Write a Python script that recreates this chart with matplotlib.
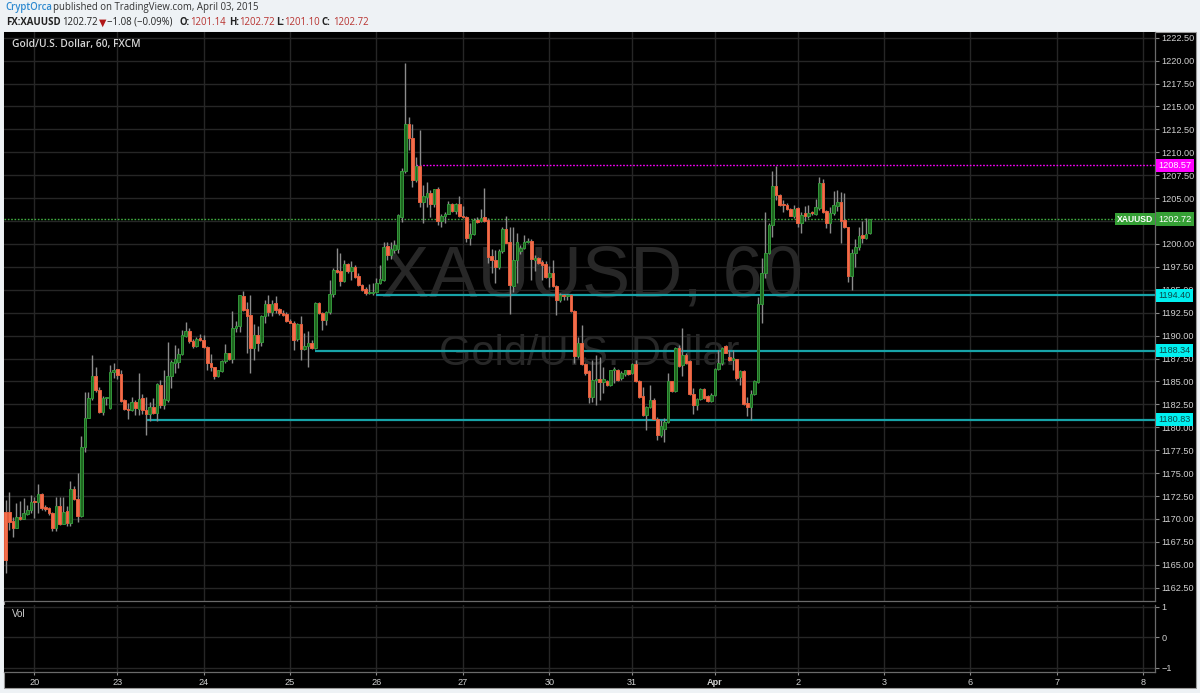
import matplotlib
matplotlib.use('Agg')
import matplotlib.pyplot as plt
from matplotlib.patches import Rectangle
from matplotlib.transforms import blended_transform_factory
import numpy as np

# ========== DANE (XAUUSD, świece 60 min) ==========

opens = [
    1170.8, 1170.8, 1169.8, 1169.05, 1170.2, 1170.0, 1170.5, 1171.0, 1171.9, 1171.8,
    1172.7, 1171.3, 1171.2, 1170.7, 1169.0, 1171.45, 1169.5, 1170.9, 1169.6, 1173.3,
    1172.2, 1170.35, 1177.8, 1181.05, 1183.2, 1185.6, 1184.1, 1181.7, 1183.2, 1182.1,
    1186.0, 1186.35, 1185.8, 1183.0, 1181.95, 1181.9, 1182.8, 1181.95, 1183.15, 1181.9,
    1181.5, 1182.25, 1181.6, 1184.65, 1182.4, 1183.0, 1185.6, 1187.0, 1187.15, 1188.0,
    1190.0, 1190.5, 1189.45, 1188.9, 1189.7, 1189.5, 1188.8, 1187.05, 1186.55, 1185.6,
    1186.1, 1187.2, 1188.1, 1187.4, 1190.8, 1191.0, 1194.35, 1192.9, 1192.2, 1188.6,
    1190.1, 1189.3, 1192.1, 1193.45, 1192.6, 1193.6, 1192.9, 1192.5, 1192.4, 1191.6,
    1191.4, 1189.6, 1191.3, 1188.55, 1188.9, 1189.2, 1188.6, 1193.6, 1192.5, 1191.7,
    1192.6, 1194.55, 1197.2, 1197.0, 1196.0, 1197.8, 1197.0, 1197.5, 1196.5, 1195.5,
    1195.05, 1194.6, 1194.6, 1194.8, 1195.7, 1196.1, 1199.8, 1198.8, 1199.35, 1199.4,
    1202.98, 1208.0, 1213.1, 1211.6, 1207.0, 1208.5, 1204.6, 1205.1, 1205.6, 1204.4,
    1205.96, 1202.5, 1203.1, 1203.3, 1204.4, 1203.6, 1204.36, 1203.05, 1202.9, 1200.6,
    1201.1, 1202.6, 1202.5, 1202.9, 1202.6, 1198.7, 1198.25, 1197.5, 1199.2, 1201.6,
    1200.2, 1195.4, 1198.3, 1199.2, 1199.6, 1200.2, 1200.35, 1198.3, 1198.5, 1198.05,
    1197.8, 1196.4, 1196.8, 1195.4, 1193.9, 1194.4, 1194.3, 1194.4, 1192.7, 1187.8,
    1189.2, 1186.9, 1186.1, 1183.3, 1185.2, 1185.25, 1184.9, 1185.0, 1184.6, 1186.2,
    1186.25, 1185.35, 1185.8, 1186.2, 1185.9, 1186.9, 1185.0, 1183.4, 1181.35, 1182.2,
    1183.0, 1180.9, 1179.2, 1179.8, 1180.6, 1185.0, 1184.0, 1188.7, 1186.8, 1187.9,
    1187.2, 1183.6, 1182.4, 1183.05, 1184.15, 1183.4, 1182.9, 1183.5, 1186.4, 1187.0,
    1188.9, 1187.7, 1187.3, 1187.4, 1185.45, 1186.1, 1182.6, 1182.25, 1183.6, 1184.9,
    1193.45, 1196.8, 1198.98, 1202.07, 1206.3, 1205.35, 1204.4, 1204.25, 1203.8, 1203.05,
    1203.9, 1202.3, 1203.35, 1203.05, 1203.42, 1203.3, 1203.9, 1206.7, 1203.6, 1202.3,
    1203.35, 1204.15, 1204.6, 1202.6, 1201.8, 1196.5, 1198.98, 1199.7, 1201.0, 1200.6,
    1201.14,
]
highs = [
    1172.1, 1172.9, 1170.2, 1171.7, 1172.0, 1172.25, 1171.5, 1172.6, 1172.4, 1173.8,
    1172.8, 1171.5, 1171.3, 1170.8, 1172.4, 1172.4, 1172.36, 1171.4, 1174.1, 1173.6,
    1175.05, 1179.1, 1183.9, 1183.9, 1187.9, 1186.6, 1184.4, 1183.45, 1183.35, 1186.8,
    1187.0, 1186.4, 1186.25, 1183.05, 1182.6, 1183.3, 1183.0, 1185.95, 1183.6, 1183.3,
    1182.8, 1183.2, 1184.8, 1185.2, 1186.2, 1189.3, 1187.3, 1188.97, 1188.6, 1190.6,
    1191.45, 1190.85, 1189.6, 1189.8, 1190.2, 1190.1, 1188.9, 1188.0, 1186.6, 1186.3,
    1187.3, 1189.1, 1188.15, 1192.7, 1191.6, 1194.4, 1194.9, 1193.7, 1194.4, 1191.3,
    1191.0, 1192.25, 1193.9, 1194.4, 1193.9, 1194.3, 1193.0, 1192.8, 1192.6, 1191.8,
    1191.6, 1191.35, 1192.1, 1190.3, 1190.55, 1189.5, 1193.7, 1193.7, 1192.6, 1192.7,
    1196.1, 1197.35, 1199.6, 1198.98, 1198.3, 1197.96, 1198.1, 1197.7, 1196.8, 1195.6,
    1195.3, 1195.6, 1195.7, 1196.25, 1197.7, 1200.25, 1200.25, 1200.25, 1200.4, 1203.3,
    1208.25, 1219.7, 1213.9, 1213.1, 1209.5, 1212.4, 1206.4, 1206.8, 1205.9, 1205.96,
    1206.25, 1203.3, 1203.5, 1204.7, 1204.5, 1204.5, 1205.2, 1204.1, 1203.05, 1202.3,
    1202.8, 1202.98, 1203.8, 1206.1, 1202.8, 1199.5, 1199.3, 1199.4, 1201.9, 1203.05,
    1201.9, 1201.9, 1201.2, 1199.9, 1201.0, 1200.6, 1200.5, 1198.8, 1198.6, 1198.25,
    1198.1, 1197.6, 1198.25, 1195.5, 1194.6, 1194.5, 1194.5, 1194.5, 1192.8, 1189.9,
    1191.2, 1187.0, 1186.25, 1187.35, 1187.9, 1187.7, 1186.6, 1185.2, 1186.3, 1186.6,
    1186.4, 1186.1, 1186.3, 1186.3, 1187.05, 1187.35, 1185.2, 1184.4, 1182.3, 1184.6,
    1183.2, 1181.1, 1180.8, 1181.0, 1185.9, 1185.1, 1188.8, 1189.0, 1190.8, 1188.1,
    1187.35, 1184.3, 1183.2, 1184.25, 1184.25, 1183.5, 1183.7, 1186.5, 1188.4, 1188.8,
    1189.0, 1188.4, 1188.4, 1187.5, 1186.25, 1186.25, 1183.35, 1184.05, 1185.2, 1194.25,
    1198.5, 1203.5, 1202.25, 1208.0, 1208.5, 1205.5, 1204.8, 1204.5, 1203.9, 1204.25,
    1204.0, 1203.5, 1204.1, 1204.25, 1203.6, 1204.9, 1207.3, 1207.05, 1203.7, 1204.0,
    1205.8, 1205.9, 1205.7, 1205.6, 1201.9, 1199.5, 1200.5, 1201.9, 1202.5, 1202.8,
    1202.72,
]
lows = [
    1164.1, 1168.8, 1168.0, 1169.0, 1169.9, 1170.0, 1170.4, 1170.6, 1170.07, 1170.6,
    1171.0, 1170.9, 1170.4, 1168.7, 1168.7, 1169.3, 1169.5, 1169.2, 1169.2, 1172.1,
    1169.7, 1170.25, 1177.3, 1181.0, 1183.0, 1183.9, 1181.6, 1181.3, 1182.4, 1182.0,
    1185.4, 1185.3, 1182.8, 1181.9, 1180.9, 1181.8, 1181.35, 1181.35, 1181.5, 1179.2,
    1180.7, 1181.5, 1180.7, 1182.1, 1182.0, 1182.8, 1184.25, 1185.9, 1186.5, 1187.9,
    1189.9, 1189.15, 1188.7, 1188.8, 1189.45, 1188.6, 1186.25, 1186.1, 1185.3, 1185.45,
    1186.0, 1187.05, 1187.3, 1187.0, 1190.4, 1190.4, 1192.7, 1188.1, 1185.9, 1187.3,
    1188.3, 1188.9, 1191.4, 1192.1, 1192.1, 1192.5, 1192.3, 1192.1, 1191.5, 1191.35,
    1188.4, 1189.45, 1187.35, 1188.4, 1186.55, 1188.5, 1188.5, 1192.4, 1190.6, 1191.2,
    1192.4, 1194.2, 1196.8, 1195.4, 1195.9, 1196.8, 1196.1, 1196.3, 1195.4, 1194.9,
    1194.4, 1194.5, 1194.4, 1194.7, 1195.6, 1196.0, 1198.25, 1198.4, 1198.98, 1198.98,
    1202.4, 1207.7, 1210.25, 1206.25, 1206.8, 1204.07, 1202.3, 1204.07, 1202.98, 1204.07,
    1202.1, 1201.9, 1202.25, 1203.3, 1203.5, 1203.3, 1202.98, 1202.8, 1200.25, 1199.9,
    1201.0, 1202.3, 1202.4, 1202.4, 1197.9, 1196.8, 1195.7, 1197.3, 1199.0, 1200.07,
    1192.4, 1194.8, 1195.7, 1198.9, 1199.5, 1200.07, 1196.1, 1197.0, 1197.8, 1196.1,
    1196.25, 1195.35, 1195.3, 1192.25, 1193.7, 1193.9, 1193.9, 1192.6, 1187.0, 1187.6,
    1186.8, 1185.7, 1182.6, 1182.8, 1182.4, 1183.0, 1183.7, 1184.5, 1184.5, 1184.8,
    1185.1, 1185.2, 1185.6, 1185.7, 1185.85, 1184.9, 1183.2, 1181.2, 1179.7, 1182.1,
    1180.8, 1178.6, 1178.9, 1178.4, 1180.5, 1183.9, 1183.9, 1186.6, 1185.6, 1186.9,
    1183.5, 1181.5, 1181.9, 1183.0, 1183.05, 1182.8, 1182.8, 1183.4, 1186.25, 1186.8,
    1188.1, 1187.2, 1186.25, 1185.2, 1184.6, 1182.4, 1181.2, 1180.8, 1183.5, 1184.8,
    1191.35, 1196.25, 1198.9, 1200.8, 1204.8, 1204.1, 1203.5, 1203.7, 1203.0, 1202.8,
    1201.8, 1201.2, 1202.5, 1202.8, 1203.2, 1203.15, 1203.7, 1203.4, 1201.7, 1201.2,
    1203.15, 1203.6, 1200.07, 1201.7, 1195.9, 1194.98, 1197.45, 1199.3, 1200.15, 1200.5,
    1201.10,
]
closes = [
    1165.5, 1169.7, 1169.05, 1170.2, 1170.0, 1170.6, 1170.98, 1171.9, 1171.8, 1172.7,
    1171.2, 1171.05, 1170.6, 1169.0, 1171.45, 1169.5, 1170.8, 1169.6, 1173.3, 1172.2,
    1170.35, 1177.8, 1181.05, 1183.2, 1185.6, 1184.1, 1181.7, 1183.2, 1183.3, 1186.0,
    1186.3, 1185.7, 1182.9, 1181.95, 1181.9, 1182.8, 1182.1, 1183.05, 1181.9, 1181.5,
    1182.25, 1181.6, 1184.7, 1182.4, 1183.05, 1185.6, 1187.15, 1187.5, 1188.0, 1190.1,
    1190.5, 1189.4, 1188.9, 1189.6, 1189.5, 1188.8, 1186.98, 1186.55, 1185.6, 1186.2,
    1187.2, 1188.1, 1187.4, 1190.8, 1191.1, 1194.4, 1192.8, 1192.1, 1188.6, 1190.1,
    1189.2, 1192.1, 1193.45, 1192.6, 1193.5, 1192.8, 1192.45, 1192.25, 1191.6, 1191.4,
    1189.5, 1191.3, 1188.55, 1188.9, 1189.2, 1188.6, 1193.6, 1192.5, 1191.7, 1192.6,
    1194.55, 1197.2, 1196.98, 1196.0, 1197.8, 1197.0, 1197.5, 1196.4, 1195.5, 1194.98,
    1194.6, 1194.8, 1194.8, 1195.7, 1196.2, 1199.7, 1198.8, 1199.4, 1199.9, 1203.16,
    1208.0, 1213.1, 1211.6, 1207.0, 1208.5, 1204.6, 1205.2, 1205.6, 1204.4, 1205.96,
    1202.5, 1203.1, 1203.3, 1204.4, 1203.6, 1204.36, 1203.05, 1202.9, 1200.6, 1201.1,
    1202.6, 1202.4, 1202.8, 1202.5, 1198.6, 1198.25, 1197.5, 1199.2, 1201.6, 1200.1,
    1195.5, 1198.3, 1200.25, 1199.6, 1200.25, 1200.35, 1198.4, 1198.5, 1197.9, 1197.7,
    1196.4, 1196.8, 1195.4, 1193.9, 1194.4, 1194.3, 1194.4, 1192.7, 1187.8, 1189.2,
    1186.9, 1185.9, 1183.3, 1185.2, 1185.25, 1184.9, 1185.25, 1184.6, 1186.25, 1186.4,
    1185.2, 1185.9, 1186.2, 1185.8, 1186.9, 1185.0, 1183.35, 1181.35, 1182.2, 1183.0,
    1180.9, 1179.2, 1180.15, 1180.6, 1185.0, 1184.0, 1188.7, 1186.7, 1187.9, 1187.0,
    1183.6, 1182.4, 1183.05, 1184.15, 1183.2, 1182.9, 1183.5, 1186.4, 1187.0, 1188.6,
    1188.15, 1187.3, 1187.6, 1185.35, 1186.1, 1182.55, 1182.25, 1183.6, 1185.05, 1193.5,
    1196.8, 1198.98, 1202.07, 1206.3, 1205.35, 1204.25, 1204.25, 1203.8, 1203.05, 1203.8,
    1202.3, 1203.2, 1203.0, 1203.35, 1203.35, 1204.0, 1206.7, 1203.5, 1202.3, 1203.4,
    1204.25, 1204.6, 1202.5, 1201.8, 1196.5, 1198.98, 1199.7, 1200.9, 1200.7, 1201.1,
    1202.72,
]

# etykiety dni i numer świecy, od której zaczyna się dzień
day_labels = ['20', '23', '24', '25', '26', '27', '30', '31', 'Apr', '2', '3', '6', '7', '8']
day_start_bar = [8, 31, 55, 79, 103, 127, 151, 174, 197, 220, 244, 268, 292, 316]

# poziomy wsparcia / oporu (cena, świeca początkowa)
support_levels = [1194.40, 1188.34, 1180.83]
support_start_bar = [103, 86, 39]
resistance_level = 1208.57
resistance_start_bar = 114
last_price = 1202.72

price_ticks = np.arange(1162.5, 1222.51, 2.5)

# ========== KOLORY ==========
BG = '#000000'
GRID = '#262626'
TXT = '#d0d0d0'
UP_FACE = '#1f661f'
UP_EDGE = '#33963a'
DOWN_FACE = '#f26d4b'
DOWN_EDGE = '#e45f3e'
WICK = '#8c8c8c'
CYAN_LINE = '#17a3a8'

W, H = 1200, 693


def fx(px):
    return px / W


def fy(py):
    return 1 - py / H


fig = plt.figure(figsize=(12, 6.93), dpi=100, facecolor='#eef2f5')

# czarny panel wykresu (pod osiami)
fig.patches.append(Rectangle((fx(4), fy(688)), fx(1192), (688 - 32) / H,
                             transform=fig.transFigure, facecolor=BG,
                             edgecolor='#9a9a9a', linewidth=0.8, zorder=-10))

ax = fig.add_axes([fx(4), fy(601), fx(1151), (601 - 32) / H])
axv = fig.add_axes([fx(4), fy(672), fx(1151), (672 - 605) / H], sharex=ax)

for a in (ax, axv):
    a.set_facecolor(BG)
    for s in a.spines.values():
        s.set_color('#6a6a6a')
        s.set_linewidth(0.9)
    a.spines['left'].set_visible(False)
    a.spines['top'].set_visible(False)

n = len(opens)
idx = np.arange(n)
o = np.array(opens)
c = np.array(closes)
hi = np.array(highs)
lo = np.array(lows)
up = c >= o

# knoty
ax.vlines(idx, lo, hi, color=WICK, linewidth=1.0, zorder=3)

# korpusy
body_low = np.minimum(o, c)
body_h = np.maximum(np.abs(c - o), 0.12)
ax.bar(idx[up], body_h[up], bottom=body_low[up], width=0.68,
       color=UP_FACE, edgecolor=UP_EDGE, linewidth=0.7, zorder=4)
ax.bar(idx[~up], body_h[~up], bottom=body_low[~up], width=0.68,
       color=DOWN_FACE, edgecolor=DOWN_EDGE, linewidth=0.7, zorder=4)

ax.set_xlim(-0.47, 319.25)
ax.set_ylim(1161.05, 1223.12)

# znak wodny
ax.text(163.0, 1196.3, 'XAUUSD, 60', fontsize=52, color='#272727',
        family='Liberation Sans', ha='center', va='center', zorder=1)
ax.text(162.0, 1188.0, 'Gold/U.S. Dollar', fontsize=30, color='#272727',
        family='Liberation Sans', ha='center', va='center', zorder=1)

# linie poziomów
ax.axhline(last_price, color='#40b040', linewidth=1.0, linestyle=(0, (1.2, 1.2)), zorder=2)
ax.hlines(resistance_level, resistance_start_bar, 319.25, color='#ff00ff',
          linewidth=1.0, linestyle=(0, (1.2, 1.2)), zorder=2)
for lvl, start in zip(support_levels, support_start_bar):
    ax.hlines(lvl, start, 319.25, color=CYAN_LINE, linewidth=1.6, zorder=2)

# siatka
ax.set_yticks(price_ticks)
ax.yaxis.tick_right()
ax.yaxis.set_major_formatter(plt.FuncFormatter(lambda v, p: f'{v:.2f}'))
ax.tick_params(axis='y', colors='#8a8a8a', labelcolor=TXT, labelsize=6.6,
               length=3, width=0.8, pad=1.5)
for lbl in ax.get_yticklabels():
    lbl.set_family('Liberation Sans')
ax.set_xticks(day_start_bar)
ax.tick_params(axis='x', bottom=False, labelbottom=False)
ax.grid(True, color=GRID, linewidth=1.0, zorder=0)
ax.set_axisbelow(True)

# etykiety cen po prawej
tr = blended_transform_factory(ax.transAxes, ax.transData)
label_kw = dict(transform=tr, ha='left', va='center', fontsize=6.6,
                family='Liberation Sans', clip_on=False, zorder=10)
ax.text(1.003, resistance_level, f'{resistance_level:.2f}', color='white',
        bbox=dict(boxstyle='square,pad=0.22', fc='#ff00ff', ec='none'), **label_kw)
ax.text(1.003, last_price, f'{last_price:.2f}', color='white',
        bbox=dict(boxstyle='square,pad=0.22', fc='#35a035', ec='none'), **label_kw)
ax.text(0.998, last_price, 'XAUUSD', color='white', transform=tr, ha='right',
        va='center', fontsize=6.2, family='Liberation Sans', fontweight='bold',
        zorder=10, bbox=dict(boxstyle='square,pad=0.22', fc='#35a035', ec='none'))
for lvl in support_levels:
    ax.text(1.003, lvl, f'{lvl:.2f}', color='#0a4a4a',
            bbox=dict(boxstyle='square,pad=0.22', fc='#00f0f0', ec='none'), **label_kw)

# panel wolumenu
axv.set_ylim(-1.14, 1.05)
axv.set_yticks([-1, 0, 1])
axv.yaxis.tick_right()
axv.tick_params(axis='y', colors='#8a8a8a', labelcolor=TXT, labelsize=6.6,
                length=3, width=0.8, pad=1.5)
axv.set_xticks(day_start_bar)
axv.set_xticklabels(day_labels)
axv.tick_params(axis='x', colors='#8a8a8a', labelcolor=TXT, labelsize=6.6,
                length=2, width=0.8, pad=2)
for lbl in axv.get_xticklabels() + axv.get_yticklabels():
    lbl.set_family('Liberation Sans')
axv.get_xticklabels()[day_labels.index('Apr')].set_fontweight('bold')
axv.grid(True, color=GRID, linewidth=1.0, zorder=0)
axv.set_axisbelow(True)
axv.text(0.007, 0.86, 'Vol', transform=axv.transAxes, color=TXT, fontsize=7,
         family='Liberation Sans', va='center')

# tytuł w wykresie
fig.text(fx(12), fy(45), 'Gold/U.S. Dollar, 60, FXCM', color='#d6d6d6', fontsize=7.4,
         family='Open Sans', fontweight='semibold', va='center')

# nagłówek
hdr = dict(fontsize=6.9, family=['Open Sans', 'DejaVu Sans'], va='center')
fig.text(fx(5), fy(7.5), 'CryptOrca', color='#2e8ad0', fontweight='semibold', **hdr)
fig.text(fx(53), fy(7.5), 'published on TradingView.com, April 03, 2015', color='#333333', **hdr)
dark = '#222222'
red = '#b83330'
fig.text(fx(6), fy(22.5), 'FX:XAUUSD', color=dark, fontweight='bold', **hdr)
fig.text(fx(62), fy(22.5), '1202.72', color=dark, **hdr)
fig.text(fx(98.5), fy(22.5), '▼', color='#b01818', fontsize=6.9,
         family=['DejaVu Sans'], va='center')
fig.text(fx(107), fy(22.5), '\u22121.08 (\u22120.09%)', color=dark, **hdr)
ohlc_pos = [(180, 'O:', '1201.14', 190.5), (229, 'H:', '1202.72', 239),
            (276, 'L:', '1201.10', 284.5), (322, 'C:', '1202.72', 333)]
for kx, key, val, vx in ohlc_pos:
    fig.text(fx(kx), fy(22.5), key, color=dark, fontweight='bold', **hdr)
    fig.text(fx(vx), fy(22.5), val, color=red, **hdr)

plt.savefig('out.png', dpi=100, facecolor=fig.get_facecolor())
plt.close()
